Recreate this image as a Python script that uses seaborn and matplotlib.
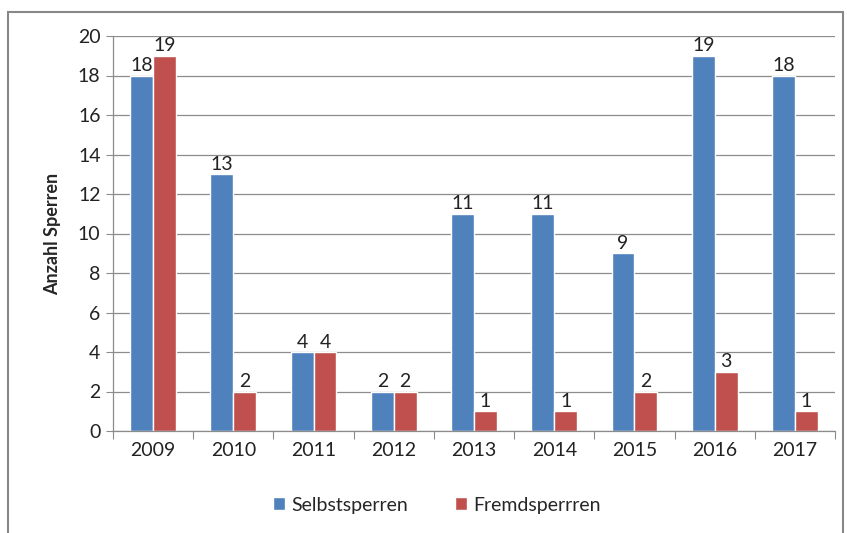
import matplotlib
matplotlib.use("Agg")
import matplotlib.pyplot as plt
import seaborn as sns
import pandas as pd
from matplotlib.patches import Rectangle

years = ["2009", "2010", "2011", "2012", "2013", "2014", "2015", "2016", "2017"]
selbst = [18, 13, 4, 2, 11, 11, 9, 19, 18]
fremd = [19, 2, 4, 2, 1, 1, 2, 3, 1]
series = ["Selbstsperren", "Fremdsperrren"]
colors = ["#4F81BD", "#C0504D"]

df = pd.DataFrame({
    "Jahr": years * 2,
    "Anzahl": selbst + fremd,
    "Serie": [series[0]] * len(years) + [series[1]] * len(years),
})

sns.set_style("white")
plt.rcParams["font.family"] = ["Lato", "DejaVu Sans"]

fig = plt.figure(figsize=(8.47, 5.33), dpi=100)
ax = fig.add_axes([113 / 847, 1 - 431 / 533, (835 - 113) / 847, (431 - 36) / 533])

sns.barplot(data=df, x="Jahr", y="Anzahl", hue="Serie", palette=colors,
            width=0.57, saturation=1, ax=ax, legend=True)

for cont in ax.containers:
    ax.bar_label(cont, fontsize=14, padding=1, color="#222222")

ax.set_ylim(0, 20)
ax.set_xlim(-0.5, len(years) - 0.5)
ax.set_yticks(range(0, 21, 2))
ax.yaxis.grid(True, color="#8c8c8c", linewidth=0.9)
ax.set_axisbelow(True)
ax.set_xlabel("")
ax.set_ylabel("Anzahl Sperren", fontsize=13, fontweight="bold", labelpad=12)

# tick marks between categories, labels centered
ax.set_xticks([i - 0.5 for i in range(len(years) + 1)], minor=False)
ax.set_xticklabels([""] * (len(years) + 1))
ax.set_xticks(range(len(years)), minor=True)
ax.set_xticklabels(years, minor=True)
ax.tick_params(axis="x", which="major", length=6, color="#8c8c8c", direction="out", bottom=True)
ax.tick_params(axis="x", which="minor", length=0, labelsize=14, pad=8, labelcolor="#222222")
ax.tick_params(axis="y", length=5, color="#8c8c8c", left=True, labelsize=14, labelcolor="#222222", pad=4)

for s in ["top", "right"]:
    ax.spines[s].set_visible(False)
for s in ["left", "bottom"]:
    ax.spines[s].set_color("#8c8c8c")
    ax.spines[s].set_linewidth(0.9)

handles, labels = ax.get_legend_handles_labels()
ax.get_legend().remove()
fig.legend(handles, labels, loc="center", bbox_to_anchor=(437 / 847, 1 - 505 / 533), ncol=2,
           frameon=False, fontsize=14, handlelength=0.6, handleheight=0.6,
           columnspacing=2.4, handletextpad=0.35)

fig.patches.append(Rectangle((8 / 847, -0.02), (843 - 8) / 847, 1.02 - 12 / 533,
                             transform=fig.transFigure, fill=False,
                             edgecolor="#888888", linewidth=1.5))

fig.savefig("out.png", dpi=100)
